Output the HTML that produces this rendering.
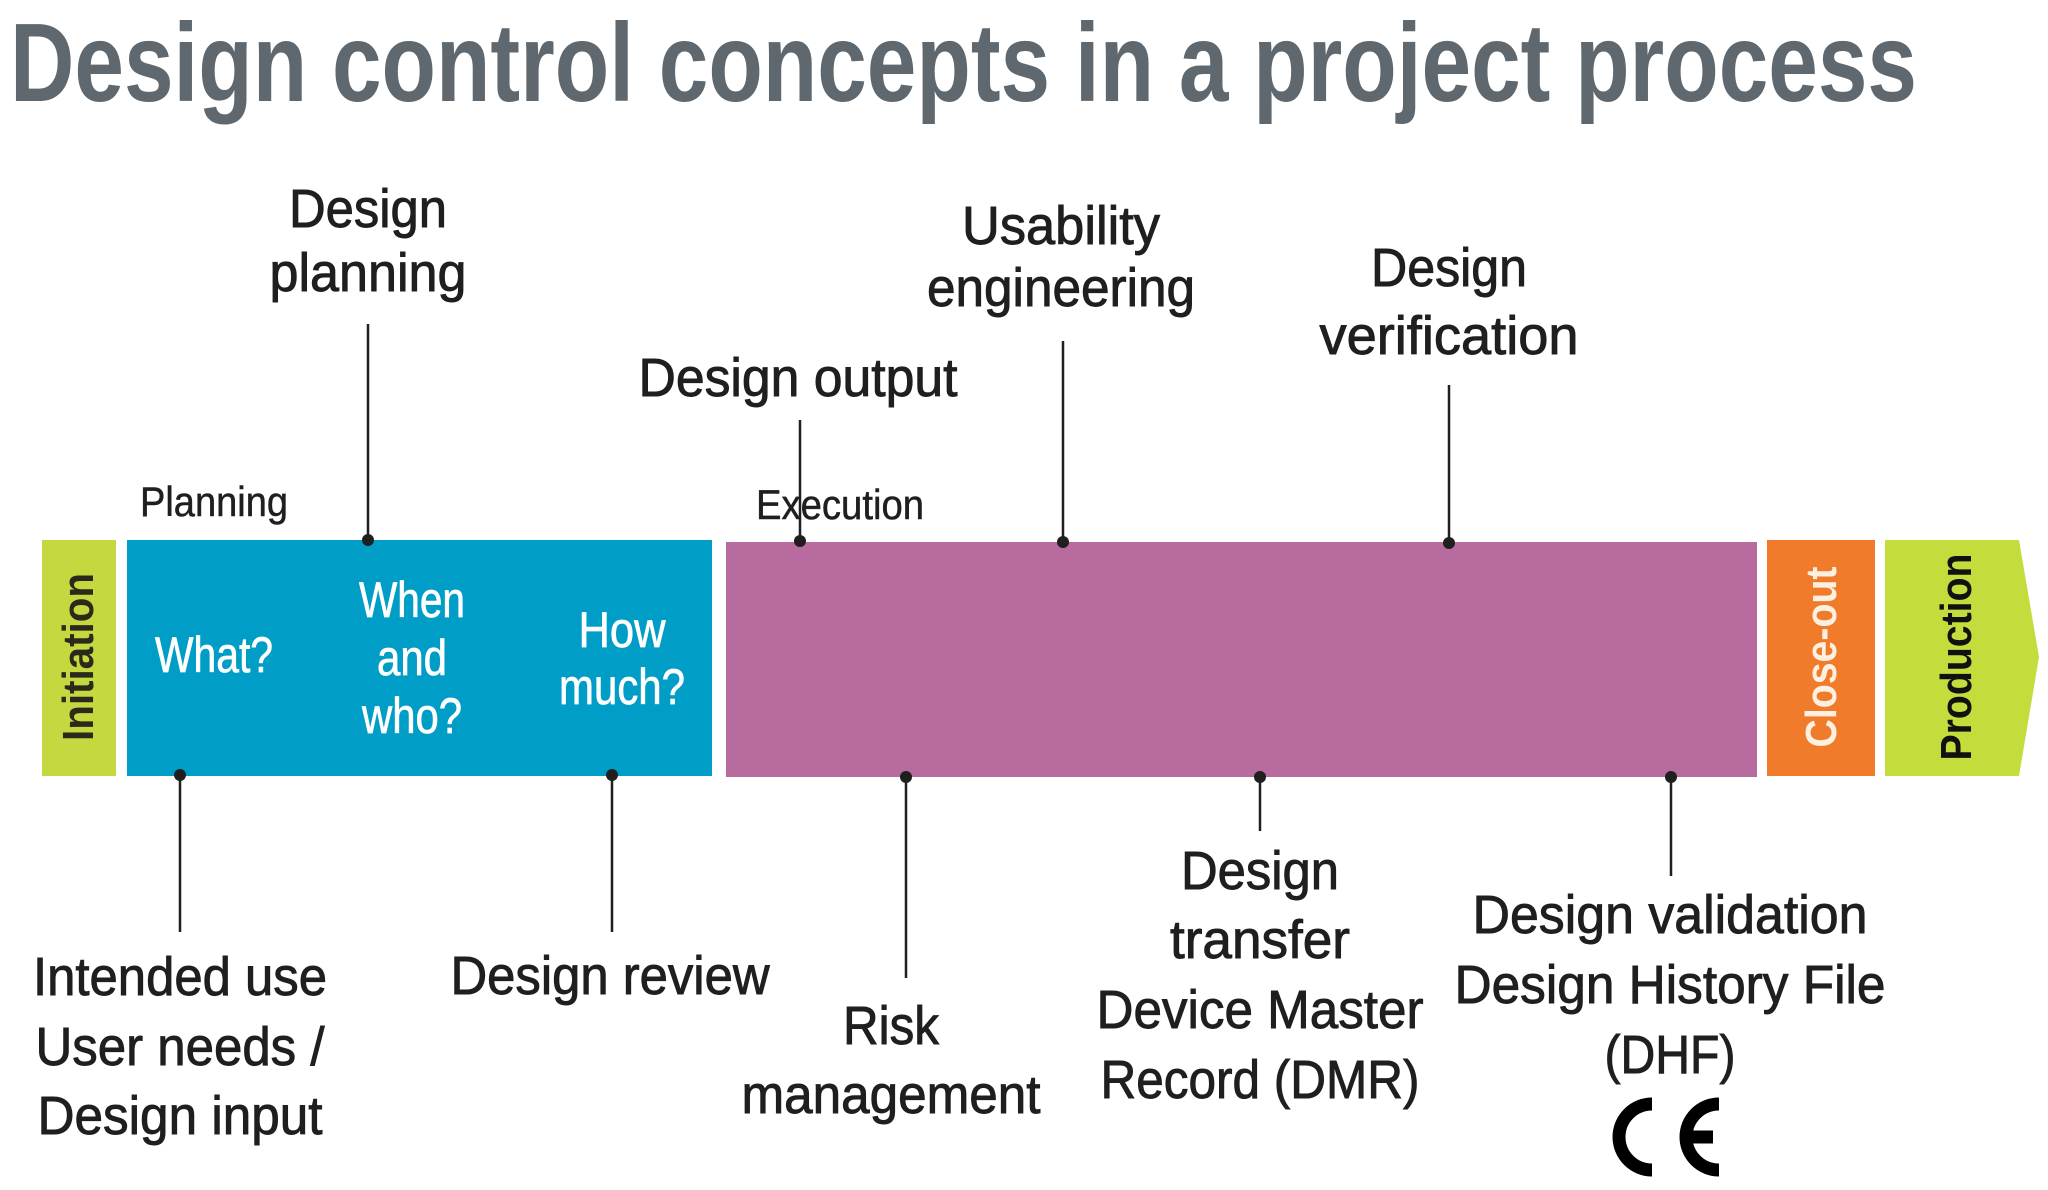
<!DOCTYPE html>
<html><head><meta charset="utf-8"><style>
html,body{margin:0;padding:0;background:#fff;}
svg{display:block;}
text{font-family:"Liberation Sans Narrow","Liberation Sans",sans-serif;}
.l{font-size:54px;fill:#1f1f1f;text-anchor:middle;stroke:#1f1f1f;stroke-width:0.9px;}
.w{font-size:50px;fill:#fff;text-anchor:middle;stroke:#fff;stroke-width:0.7px;}
.s{font-size:42px;fill:#1f1f1f;stroke:#1f1f1f;stroke-width:0.5px;}
.v{font-family:"Liberation Sans",sans-serif;font-weight:bold;font-size:44px;text-anchor:middle;}
</style></head><body>
<svg width="2048" height="1190" viewBox="0 0 2048 1190" xmlns="http://www.w3.org/2000/svg">
<text x="10" y="101" font-size="111" font-weight="bold" fill="#5f686e" style="font-family:'Liberation Sans Narrow','Liberation Sans',sans-serif" textLength="1907" lengthAdjust="spacingAndGlyphs">Design control concepts in a project process</text>

<rect x="42" y="540" width="74" height="236" fill="#c5d840"/>
<rect x="127" y="540" width="585" height="236" fill="#009ec6"/>
<rect x="726" y="542" width="1031" height="235" fill="#b76b9e"/>
<rect x="1767" y="540" width="108" height="236" fill="#f07c2b"/>
<polygon points="1885,540 2019,540 2039,657 2019,776 1885,776" fill="#c5dc3d"/>

<text class="v" fill="#2a2a1a" transform="translate(93,657) rotate(-90)" textLength="168" lengthAdjust="spacingAndGlyphs">Initiation</text>
<text class="v" fill="#fdf0e0" transform="translate(1836,657) rotate(-90)" textLength="181" lengthAdjust="spacingAndGlyphs">Close-out</text>
<text class="v" fill="#111" transform="translate(1971,657) rotate(-90)" textLength="207" lengthAdjust="spacingAndGlyphs">Production</text>

<text class="s" x="140" y="516" textLength="148" lengthAdjust="spacingAndGlyphs">Planning</text>
<text class="s" x="756" y="519" textLength="168" lengthAdjust="spacingAndGlyphs">Execution</text>

<text class="w" x="214" y="672" textLength="118" lengthAdjust="spacingAndGlyphs">What?</text>
<text class="w" x="412" y="617" textLength="106" lengthAdjust="spacingAndGlyphs">When</text>
<text class="w" x="412" y="675" textLength="70" lengthAdjust="spacingAndGlyphs">and</text>
<text class="w" x="412" y="733" textLength="100" lengthAdjust="spacingAndGlyphs">who?</text>
<text class="w" x="622" y="647" textLength="87" lengthAdjust="spacingAndGlyphs">How</text>
<text class="w" x="622" y="704" textLength="126" lengthAdjust="spacingAndGlyphs">much?</text>

<g stroke="#1f1f1f" stroke-width="2.5">
<line x1="368" y1="324" x2="368" y2="540"/>
<line x1="800" y1="420" x2="800" y2="541"/>
<line x1="1063" y1="341" x2="1063" y2="542"/>
<line x1="1449" y1="385" x2="1449" y2="543"/>
<line x1="180" y1="775" x2="180" y2="932"/>
<line x1="612" y1="775" x2="612" y2="932"/>
<line x1="906" y1="777" x2="906" y2="978"/>
<line x1="1260" y1="777" x2="1260" y2="831"/>
<line x1="1671" y1="777" x2="1671" y2="876"/>
</g>
<g fill="#1f1f1f">
<circle cx="368" cy="540" r="6"/><circle cx="800" cy="541" r="6"/><circle cx="1063" cy="542" r="6"/><circle cx="1449" cy="543" r="6"/>
<circle cx="180" cy="775" r="6"/><circle cx="612" cy="775" r="6"/><circle cx="906" cy="777" r="6"/><circle cx="1260" cy="777" r="6"/><circle cx="1671" cy="777" r="6"/>
</g>

<text class="l" x="368" y="227" textLength="158" lengthAdjust="spacingAndGlyphs">Design</text>
<text class="l" x="368" y="291" textLength="197" lengthAdjust="spacingAndGlyphs">planning</text>
<text class="l" x="1061" y="244" textLength="198" lengthAdjust="spacingAndGlyphs">Usability</text>
<text class="l" x="1061" y="306" textLength="268" lengthAdjust="spacingAndGlyphs">engineering</text>
<text class="l" x="798" y="396" textLength="319" lengthAdjust="spacingAndGlyphs">Design output</text>
<text class="l" x="1449" y="286" textLength="156" lengthAdjust="spacingAndGlyphs">Design</text>
<text class="l" x="1449" y="354" textLength="259" lengthAdjust="spacingAndGlyphs">verification</text>

<text class="l" x="180" y="995" textLength="294" lengthAdjust="spacingAndGlyphs">Intended use</text>
<text class="l" x="180" y="1065" textLength="289" lengthAdjust="spacingAndGlyphs">User needs /</text>
<text class="l" x="180" y="1134" textLength="285" lengthAdjust="spacingAndGlyphs">Design input</text>
<text class="l" x="610" y="994" textLength="319" lengthAdjust="spacingAndGlyphs">Design review</text>
<text class="l" x="891" y="1044" textLength="96" lengthAdjust="spacingAndGlyphs">Risk</text>
<text class="l" x="891" y="1113" textLength="299" lengthAdjust="spacingAndGlyphs">management</text>
<text class="l" x="1260" y="889" textLength="158" lengthAdjust="spacingAndGlyphs">Design</text>
<text class="l" x="1260" y="958" textLength="180" lengthAdjust="spacingAndGlyphs">transfer</text>
<text class="l" x="1260" y="1028" textLength="327" lengthAdjust="spacingAndGlyphs">Device Master</text>
<text class="l" x="1260" y="1098" textLength="319" lengthAdjust="spacingAndGlyphs">Record (DMR)</text>
<text class="l" x="1670" y="933" textLength="395" lengthAdjust="spacingAndGlyphs">Design validation</text>
<text class="l" x="1670" y="1003" textLength="431" lengthAdjust="spacingAndGlyphs">Design History File</text>
<text class="l" x="1670" y="1073" textLength="131" lengthAdjust="spacingAndGlyphs">(DHF)</text>

<g fill="none" stroke="#000" stroke-width="13">
<path d="M1652,1104 A33,33 0 1 0 1652,1170"/>
<path d="M1719,1104 A33,33 0 1 0 1719,1170"/>
<line x1="1684" y1="1137" x2="1713" y2="1137"/>
</g>
</svg>
</body></html>
